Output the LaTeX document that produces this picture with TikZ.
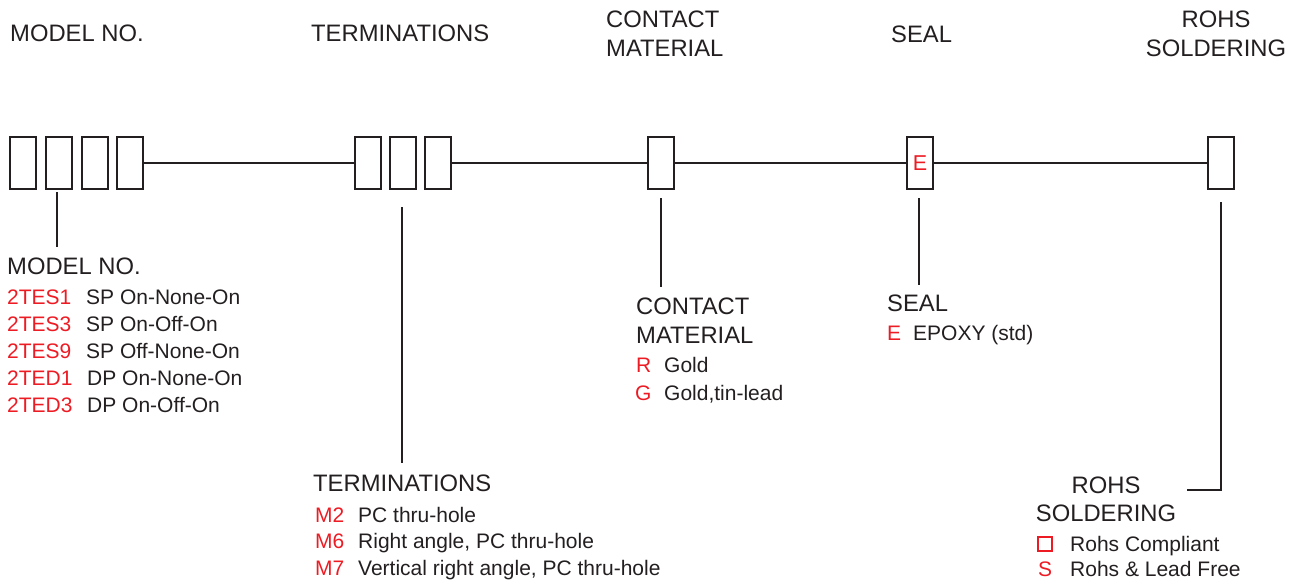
\documentclass[tikz,border=0pt]{standalone}
\usepackage{fontspec}
\setmainfont{Liberation Sans}
\definecolor{ink}{HTML}{231F20}
\definecolor{codered}{HTML}{ED1C24}
\begin{document}
\begin{tikzpicture}[x=1pt,y=-1pt,
  cell/.style={draw=ink,line width=2pt,minimum width=26pt,minimum height=52pt,inner sep=0pt},
  wire/.style={draw=ink,line width=2pt},
  head/.style={font=\fontsize{23.8}{28}\selectfont,text=ink,inner sep=0pt,anchor=base west},
  item/.style={font=\fontsize{21}{24}\selectfont,text=ink,inner sep=0pt,anchor=base west},
  code/.style={item,text=codered}]
\useasboundingbox (0,0) rectangle (1300,583);
% top headers
\node[head] (hM) at (10,42) {MODEL NO.};
\node[head] (hT) at (311,42) {TERMINATIONS};
\node[head] (hC1) at (606,28) {CONTACT};
\node[head] (hC2) at (606,57) {MATERIAL};
\node[head] (hS) at (891,43) {SEAL};
\node[head,anchor=base] (hR1) at (1216,28) {ROHS};
\node[head,anchor=base] (hR2) at (1216,57) {SOLDERING};
% boxes
\node[cell] (b1) at (23,163) {};
\node[cell] (b2) at (59,163) {};
\node[cell] (b3) at (95,163) {};
\node[cell] (b4) at (130,163) {};
\node[cell] (t1) at (367.5,163) {};
\node[cell] (t2) at (402.5,163) {};
\node[cell] (t3) at (437.5,163) {};
\node[cell] (c) at (660.5,163) {};
\node[cell,font=\fontsize{21.5}{24}\selectfont,text=codered] (s) at (920,163) {E};
\node[cell] (r) at (1220.5,163) {};
% main line
\draw[wire] (b4.east) -- (t1.west);
\draw[wire] (t3.east) -- (c.west);
\draw[wire] (c.east) -- (s.west);
\draw[wire] (s.east) -- (r.west);
% leader coordinates
\coordinate (mA) at (57,192);
\coordinate (mB) at (57,247);
\coordinate (tA) at (402,207);
\coordinate (tB) at (402,463);
\coordinate (cA) at (661,198);
\coordinate (cB) at (661,287);
\coordinate (sA) at (919,198);
\coordinate (sB) at (919,285);
\coordinate (rA) at (1221,202);
\coordinate (rB) at (1221,490);
\coordinate (rC) at (1187,490);
\draw[wire] (mA) -- (mB);
\draw[wire] (tA) -- (tB);
\draw[wire] (cA) -- (cB);
\draw[wire] (sA) -- (sB);
\draw[wire] (rA) -- (rB) -- (rC);
% model list
\node[head] (lM) at (7,274) {MODEL NO.};
\node[code] (m1) at (7,304) {2TES1};
\node[item] (d1) at (86,304) {SP On-None-On};
\node[code] (m2) at (7,331) {2TES3};
\node[item] (d2) at (86,331) {SP On-Off-On};
\node[code] (m3) at (7,358) {2TES9};
\node[item] (d3) at (86,358) {SP Off-None-On};
\node[code] (m4) at (7,385) {2TED1};
\node[item] (d4) at (87,385) {DP On-None-On};
\node[code] (m5) at (7,412) {2TED3};
\node[item] (d5) at (87,412) {DP On-Off-On};
% terminations list
\node[head] (lT) at (313,491) {TERMINATIONS};
\node[code] (tm1) at (315,522) {M2};
\node[item] (td1) at (358,522) {PC thru-hole};
\node[code] (tm2) at (315,548) {M6};
\node[item] (td2) at (358,548) {Right angle, PC thru-hole};
\node[code] (tm3) at (315,575) {M7};
\node[item] (td3) at (358,575) {Vertical right angle, PC thru-hole};
% contact list
\node[head] (lC1) at (636,314) {CONTACT};
\node[head] (lC2) at (636,343) {MATERIAL};
\node[code] (cm1) at (636,372) {R};
\node[item] (cd1) at (664,372) {Gold};
\node[code] (cm2) at (635,400) {G};
\node[item] (cd2) at (664,400) {Gold,tin-lead};
% seal list
\node[head] (lS) at (887,311) {SEAL};
\node[code] (sm1) at (887,340) {E};
\node[item] (sd1) at (913,340) {EPOXY (std)};
% rohs list
\node[head,anchor=base] (lR1) at (1106,493) {ROHS};
\node[head,anchor=base] (lR2) at (1106,521) {SOLDERING};
\node[draw=codered,line width=1.6pt,minimum width=14pt,minimum height=14pt,inner sep=0pt] (rm1) at (1045,544) {};
\node[item] (rd1) at (1070,551) {Rohs Compliant};
\node[code] (rm2) at (1038,576) {S};
\node[item] (rd2) at (1070,576) {Rohs \& Lead Free};
\end{tikzpicture}
\end{document}
